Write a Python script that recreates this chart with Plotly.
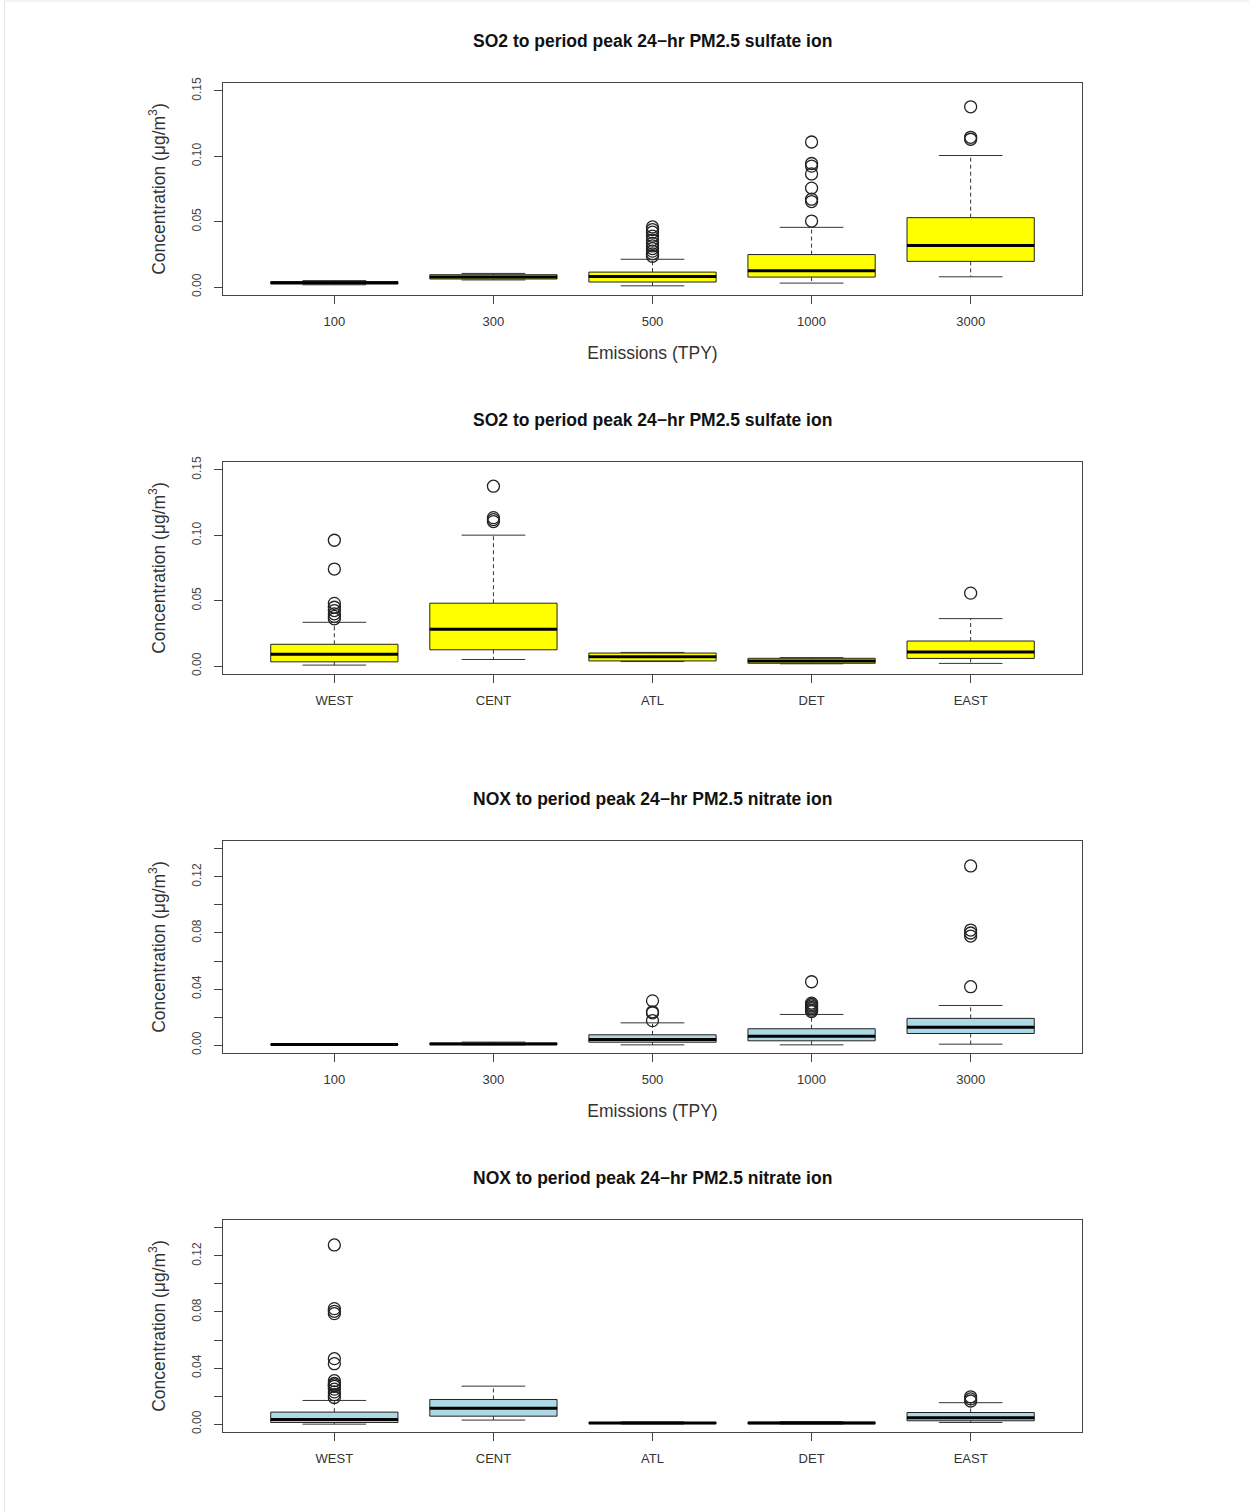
import plotly.graph_objects as go

W, H = 1249, 1512

emission_labels = ["100", "300", "500", "1000", "3000"]
region_labels = ["WEST", "CENT", "ATL", "DET", "EAST"]
positions = [1, 2, 3, 4, 5]

# Panel 1: SO2 -> sulfate ion, by emissions
so2_emis_lower = [0.0018, 0.0055, 0.0010, 0.0031, 0.0079]
so2_emis_q1 = [0.0025, 0.0062, 0.0039, 0.0077, 0.0197]
so2_emis_median = [0.0033, 0.0078, 0.0082, 0.0126, 0.0318]
so2_emis_q3 = [0.0042, 0.0095, 0.0115, 0.0249, 0.0531]
so2_emis_upper = [0.0050, 0.0105, 0.0213, 0.0457, 0.1006]
so2_emis_outliers = [
    [],
    [],
    [0.0236, 0.0255, 0.0275, 0.0295, 0.0315, 0.0335, 0.0360, 0.0390, 0.0420, 0.0440, 0.0460],
    [0.0505, 0.0654, 0.0672, 0.0757, 0.0865, 0.0925, 0.0945, 0.1109],
    [0.1130, 0.1145, 0.1378],
]

# Panel 2: SO2 -> sulfate ion, by region
so2_reg_lower = [0.0008, 0.0051, 0.0035, 0.0018, 0.0021]
so2_reg_q1 = [0.0033, 0.0125, 0.0040, 0.0022, 0.0059]
so2_reg_median = [0.0090, 0.0282, 0.0072, 0.0040, 0.0108]
so2_reg_q3 = [0.0167, 0.0481, 0.0100, 0.0060, 0.0192]
so2_reg_upper = [0.0335, 0.1001, 0.0105, 0.0065, 0.0363]
so2_reg_outliers = [
    [0.0362, 0.0380, 0.0400, 0.0425, 0.0450, 0.0480, 0.0742, 0.0962],
    [0.1105, 0.1120, 0.1135, 0.1375],
    [],
    [],
    [0.0558],
]

# Panel 3: NOX -> nitrate ion, by emissions
nox_emis_lower = [0.0001, 0.0002, 0.0002, 0.0002, 0.0007]
nox_emis_q1 = [0.0002, 0.0005, 0.0021, 0.0031, 0.0083]
nox_emis_median = [0.0004, 0.0009, 0.0041, 0.0064, 0.0128]
nox_emis_q3 = [0.0007, 0.0015, 0.0074, 0.0117, 0.0191]
nox_emis_upper = [0.0010, 0.0022, 0.0159, 0.0219, 0.0283]
nox_emis_outliers = [
    [],
    [],
    [0.0175, 0.0230, 0.0238, 0.0316],
    [0.0240, 0.0250, 0.0260, 0.0270, 0.0280, 0.0290, 0.0300, 0.0452],
    [0.0417, 0.0778, 0.0800, 0.0821, 0.1278],
]

# Panel 4: NOX -> nitrate ion, by region
nox_reg_lower = [0.0000, 0.0029, 0.0001, 0.0001, 0.0012]
nox_reg_q1 = [0.0012, 0.0057, 0.0004, 0.0003, 0.0024]
nox_reg_median = [0.0034, 0.0114, 0.0008, 0.0008, 0.0046]
nox_reg_q3 = [0.0086, 0.0176, 0.0012, 0.0014, 0.0083]
nox_reg_upper = [0.0169, 0.0271, 0.0016, 0.0018, 0.0153]
nox_reg_outliers = [
    [0.0190, 0.0210, 0.0230, 0.0250, 0.0270, 0.0280, 0.0290, 0.0310,
     0.0431, 0.0467, 0.0788, 0.0805, 0.0824, 0.1278],
    [],
    [],
    [],
    [0.0165, 0.0180, 0.0195],
]

so2_title = "SO2 to period peak 24\u2212hr PM2.5 sulfate ion"
nox_title = "NOX to period peak 24\u2212hr PM2.5 nitrate ion"

so2_ticks = [0.0, 0.05, 0.10, 0.15]
so2_ticktext = ["0.00", "0.05", "0.10", "0.15"]
nox_ticks = [0.0, 0.04, 0.08, 0.12]
nox_ticktext = ["0.00", "0.04", "0.08", "0.12"]

panels = [
    dict(title=so2_title, labels=emission_labels, lower=so2_emis_lower, q1=so2_emis_q1,
         median=so2_emis_median, q3=so2_emis_q3, upper=so2_emis_upper, outliers=so2_emis_outliers,
         fill="#FFFF00", xtitle="Emissions (TPY)", ymax=0.15, ticks=so2_ticks, ticktext=so2_ticktext,
         minor=None),
    dict(title=so2_title, labels=region_labels, lower=so2_reg_lower, q1=so2_reg_q1,
         median=so2_reg_median, q3=so2_reg_q3, upper=so2_reg_upper, outliers=so2_reg_outliers,
         fill="#FFFF00", xtitle=None, ymax=0.15, ticks=so2_ticks, ticktext=so2_ticktext,
         minor=None),
    dict(title=nox_title, labels=emission_labels, lower=nox_emis_lower, q1=nox_emis_q1,
         median=nox_emis_median, q3=nox_emis_q3, upper=nox_emis_upper, outliers=nox_emis_outliers,
         fill="#ADD8E6", xtitle="Emissions (TPY)", ymax=0.14, ticks=nox_ticks, ticktext=nox_ticktext,
         minor=0.02),
    dict(title=nox_title, labels=region_labels, lower=nox_reg_lower, q1=nox_reg_q1,
         median=nox_reg_median, q3=nox_reg_q3, upper=nox_reg_upper, outliers=nox_reg_outliers,
         fill="#ADD8E6", xtitle=None, ymax=0.14, ticks=nox_ticks, ticktext=nox_ticktext,
         minor=0.02),
]

# layout geometry (pixels)
frame_left, frame_right = 223, 1082
frame_tops = [83, 462, 841, 1220]
frame_h = 212
title_offset = 42
box_w = 0.8
staple_w = 0.4

FONT = "Liberation Sans, Arial, sans-serif"
fig = go.Figure()
layout = dict(
    width=W, height=H,
    margin=dict(l=0, r=0, t=0, b=0),
    paper_bgcolor="white", plot_bgcolor="white",
    showlegend=False,
    font=dict(family=FONT, color="#222"),
    annotations=[], shapes=[],
)

for k, p in enumerate(panels, start=1):
    xa = "x" if k == 1 else f"x{k}"
    ya = "y" if k == 1 else f"y{k}"
    n = len(p["labels"])

    # whiskers (dashed)
    wx, wy = [], []
    for i in range(n):
        x = positions[i]
        wx += [x, x, None, x, x, None]
        wy += [p["q3"][i], p["upper"][i], None, p["q1"][i], p["lower"][i], None]
    fig.add_trace(go.Scatter(x=wx, y=wy, mode="lines", xaxis=xa, yaxis=ya,
                             line=dict(color="#333", width=1, dash="4px,3px"),
                             hoverinfo="skip"))
    # staples
    sx, sy = [], []
    for i in range(n):
        x = positions[i]
        sx += [x - staple_w / 2, x + staple_w / 2, None, x - staple_w / 2, x + staple_w / 2, None]
        sy += [p["upper"][i], p["upper"][i], None, p["lower"][i], p["lower"][i], None]
    fig.add_trace(go.Scatter(x=sx, y=sy, mode="lines", xaxis=xa, yaxis=ya,
                             line=dict(color="#333", width=1), hoverinfo="skip"))
    # boxes
    fig.add_trace(go.Box(x=positions, q1=p["q1"], median=p["median"], q3=p["q3"],
                         lowerfence=p["q1"], upperfence=p["q3"], width=box_w,
                         whiskerwidth=0, boxpoints=False, fillcolor=p["fill"],
                         line=dict(color="#222", width=1), xaxis=xa, yaxis=ya,
                         hoverinfo="skip"))
    # medians (thick)
    mx, my = [], []
    for i in range(n):
        x = positions[i]
        mx += [x - box_w / 2, x + box_w / 2, None]
        my += [p["median"][i], p["median"][i], None]
    fig.add_trace(go.Scatter(x=mx, y=my, mode="lines", xaxis=xa, yaxis=ya,
                             line=dict(color="black", width=3), hoverinfo="skip"))
    # outliers
    ox, oy = [], []
    for i in range(n):
        for v in p["outliers"][i]:
            ox.append(positions[i])
            oy.append(v)
    fig.add_trace(go.Scatter(x=ox, y=oy, mode="markers", xaxis=xa, yaxis=ya,
                             marker=dict(symbol="circle-open", size=12, color="#222",
                                         line=dict(width=1.3)),
                             hoverinfo="skip"))

    top = frame_tops[k - 1]
    bottom = top + frame_h
    ymax = p["ymax"]
    pad = 0.04 * ymax
    xaxis = dict(
        domain=[frame_left / W, frame_right / W], anchor=ya,
        range=[0.3, 5.7], tickmode="array", tickvals=positions, ticktext=p["labels"],
        ticks="outside", ticklen=8, tickcolor="#444", tickwidth=1,
        showline=True, mirror=True, linecolor="#444", linewidth=1,
        showgrid=False, zeroline=False, ticklabelstandoff=6,
        tickfont=dict(size=13, color="#333", family=FONT),
        automargin=False,
    )
    if p["xtitle"]:
        xaxis["title"] = dict(text=p["xtitle"], font=dict(size=17.5, color="#333", family=FONT),
                              standoff=19)
    yaxis = dict(
        domain=[1 - bottom / H, 1 - top / H], anchor=xa,
        range=[-pad, ymax + pad], tickmode="array", tickvals=p["ticks"], ticktext=p["ticktext"],
        tickangle=-90, ticklabelstandoff=8,
        ticks="outside", ticklen=8, tickcolor="#444", tickwidth=1,
        showline=True, mirror=True, linecolor="#444", linewidth=1,
        showgrid=False, zeroline=False,
        tickfont=dict(size=12, color="#444", family=FONT),
        title=dict(text="Concentration (\u03bcg/m<sup>3</sup>)",
                   font=dict(size=17.5, color="#333", family=FONT), standoff=20),
        automargin=False,
    )
    if p["minor"]:
        yaxis["minor"] = dict(tickmode="linear", tick0=0, dtick=p["minor"], ticks="outside",
                              ticklen=8, tickcolor="#444", tickwidth=1, showgrid=False)
    layout[f"xaxis{'' if k == 1 else k}"] = xaxis
    layout[f"yaxis{'' if k == 1 else k}"] = yaxis
    layout["annotations"].append(dict(
        text=f"<b>{p['title']}</b>", xref="paper", yref="paper",
        x=(frame_left + frame_right) / 2 / W, y=1 - (top - title_offset) / H,
        xanchor="center", yanchor="middle", showarrow=False,
        font=dict(size=17.5, color="#111", family=FONT),
    ))

layout["shapes"].append(dict(type="rect", xref="paper", yref="paper",
                             x0=4.5 / W, x1=1.02, y0=-0.02, y1=1 - 1 / H,
                             line=dict(color="#e6e6e6", width=1)))

fig.update_layout(**layout)
fig.write_html("out.html")
